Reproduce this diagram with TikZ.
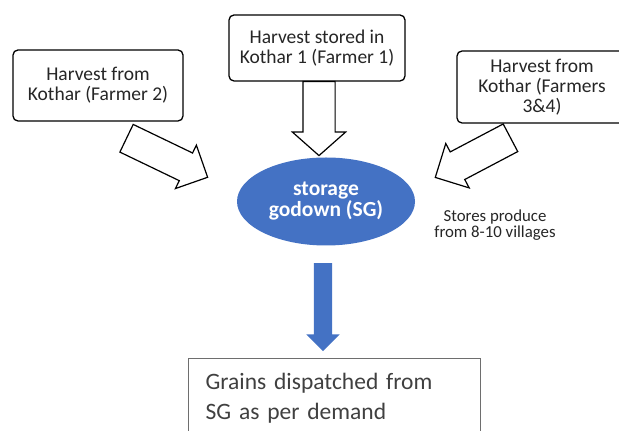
\documentclass[tikz,border=0pt]{standalone}
\usepackage{fontspec}
\setmainfont{Carlito}
\usetikzlibrary{shapes.geometric,shapes.arrows}
\definecolor{godown}{HTML}{4472C4}
\definecolor{ink}{HTML}{262626}
\definecolor{edge}{HTML}{6E6E6E}
\definecolor{greytext}{HTML}{404040}
\tikzset{kothar/.style={draw=black,line width=1.3pt,rounded corners=5pt,fill=white,align=center,text=ink,inner sep=0pt,font=\fontsize{19.5}{20}\selectfont},hollow/.style={single arrow,draw=black,fill=white,line width=1.2pt,inner xsep=0pt,anchor=tail},sg/.style={ellipse,fill=godown,text=white,align=center,inner sep=0pt,minimum width=178pt,minimum height=88pt,font=\bfseries\fontsize{21.5}{21}\selectfont},note/.style={align=center,text=ink,inner sep=0pt,font=\fontsize{16.8}{16.5}\selectfont}}

\begin{document}
\begin{tikzpicture}[x=1pt,y=1pt]
\useasboundingbox (0,0) rectangle (619,431);
\node[kothar,minimum width=170pt,minimum height=71pt] (farmer2) at (98,345.5) {Harvest from\\Kothar (Farmer 2)};
\node[kothar,minimum width=176pt,minimum height=66pt] (farmer1) at (317,383) {Harvest stored in\\Kothar 1 (Farmer 1)};
\node[kothar,minimum width=170pt,minimum height=72pt] (farmer34) at (542,344) {Harvest from\\Kothar (Farmers\\3\&4)};
\node[sg] (sg) at (326,229.5) {storage\\godown (SG)};
\node[note] (villages) at (495,206) {Stores produce\\from 8-10 villages};
\node[hollow,minimum height=90pt,inner ysep=14.75pt,single arrow head extend=8.75pt,rotate=-25.7] (in2) at (126,293) {};
\node[hollow,minimum height=74pt,inner ysep=15.5pt,single arrow head extend=10.5pt,single arrow tip angle=97,rotate=-90] (in1) at (319,350) {};
\node[hollow,minimum height=85pt,inner ysep=15pt,single arrow head extend=9.5pt,rotate=207.8] (in34) at (511,293.5) {};
\node[single arrow,fill=godown,inner xsep=0pt,inner ysep=9pt,minimum height=88pt,single arrow head extend=7.5pt,rotate=-90,anchor=tail] (out) at (323,168) {};
\node[draw=edge,line width=1.2pt,anchor=north west,text width=258pt,inner xsep=17pt,inner ysep=15pt,align=left,text=greytext,font=\fontsize{23.5}{30}\selectfont] (grains) at (188,73) {Grains dispatched from\\SG as per demand};
\end{tikzpicture}
\end{document}
